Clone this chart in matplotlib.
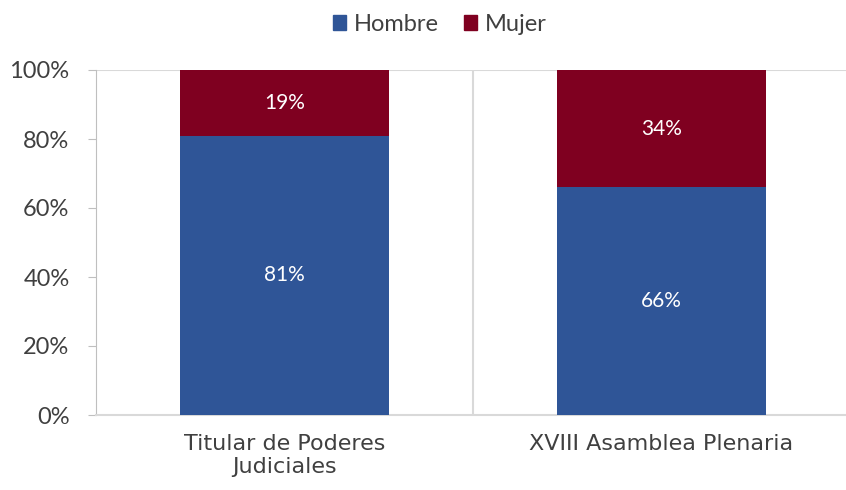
import matplotlib.pyplot as plt
from matplotlib.patches import Patch

categories = ["Titular de Poderes\nJudiciales", "XVIII Asamblea Plenaria"]
hombre = [81, 66]
mujer = [19, 34]

blue = "#2F5597"
red = "#7F0020"
grey = "#D9D9D9"

plt.rcParams['font.family'] = ['Lato', 'DejaVu Sans']

fig = plt.figure(figsize=(8.46, 4.90), dpi=100)
ax = fig.add_axes([96 / 846, 75 / 490, 754 / 846, 345 / 490])

x = range(len(categories))
ax.bar(x, hombre, width=0.557, color=blue, zorder=3)
ax.bar(x, mujer, width=0.557, bottom=hombre, color=red, zorder=3)

for i in x:
    ax.text(i, hombre[i] / 2, f"{hombre[i]}%", ha="center", va="center",
            color="white", fontsize=15, zorder=4)
    ax.text(i, hombre[i] + mujer[i] / 2, f"{mujer[i]}%", ha="center", va="center",
            color="white", fontsize=15, zorder=4)

ax.set_xlim(-0.5, 1.5)
ax.set_ylim(0, 100)
ax.set_yticks(range(0, 101, 20))
ax.set_yticklabels([f"{v}%" for v in range(0, 101, 20)], fontsize=17, color="#404040")
ax.set_xticks(list(x))
ax.set_xticklabels(categories, fontsize=16, color="#404040", linespacing=1.15,
                   family=['DejaVu Sans'])
ax.tick_params(axis="x", length=0, pad=14)
ax.tick_params(axis="y", length=6, color="#BFBFBF", pad=13)

ax.axhline(100, color=grey, lw=1.5, zorder=2)
ax.axvline(0.5, color=grey, lw=1.5, zorder=2)

for side in ["top", "right"]:
    ax.spines[side].set_visible(False)
ax.spines["left"].set_color("#BFBFBF")
ax.spines["bottom"].set_color(grey)
ax.spines["bottom"].set_linewidth(1.5)

handles = [Patch(color=blue, label="Hombre"), Patch(color=red, label="Mujer")]
fig.legend(handles=handles, loc="upper center", bbox_to_anchor=(0.52, 1.015), ncol=2,
           frameon=False, fontsize=17, handlelength=0.55, handleheight=0.55,
           handletextpad=0.3, columnspacing=1.1, labelcolor="#404040")

fig.savefig("out.png", dpi=100)
